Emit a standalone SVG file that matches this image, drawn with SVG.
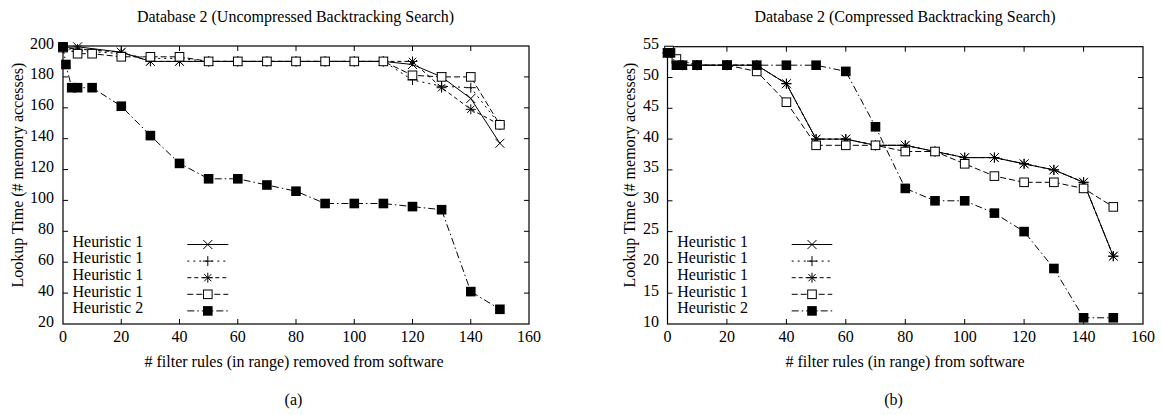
<svg xmlns="http://www.w3.org/2000/svg" width="1162" height="415" viewBox="0 0 1162 415">
<style>
text{font-family:"Liberation Serif","Times New Roman",serif;font-size:16px;fill:#000}
.r{text-anchor:end}
.m{text-anchor:middle}
.frame{fill:none;stroke:#000;stroke-width:1.2}
.tick{fill:none;stroke:#000;stroke-width:1}
.s{fill:none;stroke:#000;stroke-width:1}
.a{stroke-dasharray:none}
.b{stroke-dasharray:2 4}
.c{stroke-dasharray:4 3}
.d{stroke-dasharray:6 3}
.e{stroke-dasharray:7 3 1.5 3}
.mk{fill:none;stroke:#000;stroke-width:1;stroke-dasharray:none}
.px{marker-start:url(#mx);marker-mid:url(#mx);marker-end:url(#mx)}
.pp{marker-start:url(#mp);marker-mid:url(#mp);marker-end:url(#mp)}
.pa{marker-start:url(#ma);marker-mid:url(#ma);marker-end:url(#ma)}
.ps{marker-start:url(#ms);marker-mid:url(#ms);marker-end:url(#ms)}
.pf{marker-start:url(#mf);marker-mid:url(#mf);marker-end:url(#mf)}
.lx{marker-mid:url(#mx)}
.lp{marker-mid:url(#mp)}
.la{marker-mid:url(#ma)}
.ls{marker-mid:url(#ms)}
.lf{marker-mid:url(#mf)}
</style>
<defs>
<marker id="mx" markerUnits="userSpaceOnUse" viewBox="-6 -6 12 12" markerWidth="12" markerHeight="12" refX="0" refY="0" orient="0" overflow="visible"><path class="mk" d="M-4.5,-4.5L4.5,4.5M-4.5,4.5L4.5,-4.5"/></marker>
<marker id="mp" markerUnits="userSpaceOnUse" viewBox="-6 -6 12 12" markerWidth="12" markerHeight="12" refX="0" refY="0" orient="0" overflow="visible"><path class="mk" d="M-5,0H5M0,-5V5"/></marker>
<marker id="ma" markerUnits="userSpaceOnUse" viewBox="-6 -6 12 12" markerWidth="12" markerHeight="12" refX="0" refY="0" orient="0" overflow="visible"><path class="mk" d="M-5,0H5M0,-5V5M-3.6,-3.6L3.6,3.6M-3.6,3.6L3.6,-3.6"/></marker>
<marker id="ms" markerUnits="userSpaceOnUse" viewBox="-6 -6 12 12" markerWidth="12" markerHeight="12" refX="0" refY="0" orient="0" overflow="visible"><rect x="-4.3" y="-4.3" width="8.6" height="8.6" fill="#fff" stroke="#000" stroke-width="1"/></marker>
<marker id="mf" markerUnits="userSpaceOnUse" viewBox="-6 -6 12 12" markerWidth="12" markerHeight="12" refX="0" refY="0" orient="0" overflow="visible"><rect x="-4.8" y="-4.8" width="9.6" height="9.6" fill="#000"/></marker>
</defs>

<g id="plot-a">
<text class="m" x="295.5" y="22">Database 2 (Uncompressed Backtracking Search)</text>
<rect class="frame" x="63" y="46" width="466" height="278"/>
<path class="tick" d="M121.25,324v-5M179.5,324v-5M237.75,324v-5M296,324v-5M354.25,324v-5M412.5,324v-5M470.75,324v-5M121.25,46v5M179.5,46v5M237.75,46v5M296,46v5M354.25,46v5M412.5,46v5M470.75,46v5M63,293.1h5M63,262.2h5M63,231.3h5M63,200.4h5M63,169.6h5M63,138.7h5M63,107.8h5M63,76.9h5M529,293.1h-5M529,262.2h-5M529,231.3h-5M529,200.4h-5M529,169.6h-5M529,138.7h-5M529,107.8h-5M529,76.9h-5"/>
<g id="a-yticks">
<text class="r" x="54" y="326.5">20</text>
<text class="r" x="54" y="295.6">40</text>
<text class="r" x="54" y="264.7">60</text>
<text class="r" x="54" y="233.8">80</text>
<text class="r" x="54" y="202.9">100</text>
<text class="r" x="54" y="172.1">120</text>
<text class="r" x="54" y="141.2">140</text>
<text class="r" x="54" y="110.3">160</text>
<text class="r" x="54" y="79.4">180</text>
<text class="r" x="54" y="48.5">200</text>
</g>
<g id="a-xticks">
<text class="m" x="63" y="342">0</text>
<text class="m" x="121.25" y="342">20</text>
<text class="m" x="179.5" y="342">40</text>
<text class="m" x="237.75" y="342">60</text>
<text class="m" x="296" y="342">80</text>
<text class="m" x="354.25" y="342">100</text>
<text class="m" x="412.5" y="342">120</text>
<text class="m" x="470.75" y="342">140</text>
<text class="m" x="529" y="342">160</text>
</g>
<text class="m" transform="translate(23,175) rotate(-90)">Lookup Time (# memory accesses)</text>
<text class="m" x="294" y="366.5"># filter rules (in range) removed from software</text>
<text class="m" x="293.5" y="405">(a)</text>
<g id="a-series">
<polyline class="s a px" points="63,47.6 77.6,46.8 121.3,52.2 150.4,61.4 179.5,61.4 208.6,61.4 237.8,61.4 266.9,61.4 296,61.4 325.1,61.4 354.3,61.4 383.4,61.4 412.5,64.5 441.6,76.9 470.8,98.5 499.9,143.3"/>
<polyline class="s b pp" points="63,47.6 77.6,50.6 121.3,53.7 150.4,58.4 179.5,58.4 208.6,61.4 237.8,61.4 266.9,61.4 296,61.4 325.1,61.4 354.3,61.4 383.4,61.4 412.5,80 441.6,86.2 470.8,87.7 499.9,124.8"/>
<polyline class="s c pa" points="63,47.6 77.6,49.1 121.3,52.2 150.4,61.4 179.5,61.4 208.6,61.4 237.8,61.4 266.9,61.4 296,61.4 325.1,61.4 354.3,61.4 383.4,61.4 412.5,61.4 441.6,87.7 470.8,109.3 499.9,124.8"/>
<polyline class="s d ps" points="63,47.6 77.6,53.7 92.1,53.7 121.3,56.8 150.4,56.8 179.5,56.8 208.6,61.4 237.8,61.4 266.9,61.4 296,61.4 325.1,61.4 354.3,61.4 383.4,61.4 412.5,75.3 441.6,76.9 470.8,76.9 499.9,124.8"/>
<polyline class="s e pf" points="63,46.8 65.9,64.5 71.7,87.7 77.6,87.7 92.1,87.7 121.3,106.2 150.4,135.6 179.5,163.4 208.6,178.8 237.8,178.8 266.9,185 296,191.2 325.1,203.5 354.3,203.5 383.4,203.5 412.5,206.6 441.6,209.7 470.8,291.6 499.9,309.3"/>
</g>
<g id="a-legend">
<text x="72.5" y="246.7">Heuristic 1</text>
<text x="72.5" y="263.3">Heuristic 1</text>
<text x="72.5" y="279.9">Heuristic 1</text>
<text x="72.5" y="296.5">Heuristic 1</text>
<text x="72.5" y="313.1">Heuristic 2</text>
<polyline class="s a lx" points="187.3,244.5 207.8,244.5 228.3,244.5"/>
<polyline class="s b lp" points="187.3,261.1 207.8,261.1 228.3,261.1"/>
<polyline class="s c la" points="187.3,277.7 207.8,277.7 228.3,277.7"/>
<polyline class="s d ls" points="187.3,294.3 207.8,294.3 228.3,294.3"/>
<polyline class="s e lf" points="187.3,310.9 207.8,310.9 228.3,310.9"/>
</g>
</g>

<g id="plot-b">
<text class="m" x="905" y="22">Database 2 (Compressed Backtracking Search)</text>
<rect class="frame" x="667.5" y="46.7" width="475.5" height="277.3"/>
<path class="tick" d="M726.9,324v-5M786.4,324v-5M845.8,324v-5M905.3,324v-5M964.7,324v-5M1024.1,324v-5M1083.6,324v-5M726.9,46.7v5M786.4,46.7v5M845.8,46.7v5M905.3,46.7v5M964.7,46.7v5M1024.1,46.7v5M1083.6,46.7v5M667.5,293.2h5M667.5,262.4h5M667.5,231.6h5M667.5,200.8h5M667.5,169.9h5M667.5,139.1h5M667.5,108.3h5M667.5,77.5h5M1143,293.2h-5M1143,262.4h-5M1143,231.6h-5M1143,200.8h-5M1143,169.9h-5M1143,139.1h-5M1143,108.3h-5M1143,77.5h-5"/>
<g id="b-yticks">
<text class="r" x="659" y="326.5">10</text>
<text class="r" x="659" y="295.7">15</text>
<text class="r" x="659" y="264.9">20</text>
<text class="r" x="659" y="234.1">25</text>
<text class="r" x="659" y="203.3">30</text>
<text class="r" x="659" y="172.4">35</text>
<text class="r" x="659" y="141.6">40</text>
<text class="r" x="659" y="110.8">45</text>
<text class="r" x="659" y="80">50</text>
<text class="r" x="659" y="49.2">55</text>
</g>
<g id="b-xticks">
<text class="m" x="667.5" y="342">0</text>
<text class="m" x="726.9" y="342">20</text>
<text class="m" x="786.4" y="342">40</text>
<text class="m" x="845.8" y="342">60</text>
<text class="m" x="905.3" y="342">80</text>
<text class="m" x="964.7" y="342">100</text>
<text class="m" x="1024.1" y="342">120</text>
<text class="m" x="1083.6" y="342">140</text>
<text class="m" x="1143" y="342">160</text>
</g>
<text class="m" transform="translate(635,175) rotate(-90)">Lookup Time (# memory accesses)</text>
<text class="m" x="905" y="366.5"># filter rules (in range) from software</text>
<text class="m" x="893.5" y="405">(b)</text>
<g id="b-series">
<polyline class="s a px" points="667.5,52.9 682.4,65.2 697.2,65.2 727,65.2 756.7,65.2 786.4,83.7 816.1,139.1 845.8,139.1 875.5,145.3 905.3,145.3 935,151.5 964.7,157.6 994.4,157.6 1024.1,163.8 1053.9,169.9 1083.6,182.3 1113.3,256.2"/>
<polyline class="s b pp" points="667.5,52.9 682.4,65.2 697.2,65.2 727,65.2 756.7,65.2 786.4,83.7 816.1,139.1 845.8,139.1 875.5,145.3 905.3,145.3 935,151.5 964.7,157.6 994.4,157.6 1024.1,163.8 1053.9,169.9 1083.6,182.3 1113.3,256.2"/>
<polyline class="s c pa" points="667.5,52.9 682.4,65.2 697.2,65.2 727,65.2 756.7,65.2 786.4,83.7 816.1,139.1 845.8,139.1 875.5,145.3 905.3,145.3 935,151.5 964.7,157.6 994.4,157.6 1024.1,163.8 1053.9,169.9 1083.6,182.3 1113.3,256.2"/>
<polyline class="s d ps" points="669,50.5 676.4,59 697.2,65.2 727,65.2 756.7,71.4 786.4,102.2 816.1,145.3 845.8,145.3 875.5,145.3 905.3,151.5 935,151.5 964.7,163.8 994.4,176.1 1024.1,182.3 1053.9,182.3 1083.6,188.4 1113.3,206.9"/>
<polyline class="s e pf" points="667.5,52.9 670.5,52.9 676.4,65.2 682.4,65.2 697.2,65.2 727,65.2 756.7,65.2 786.4,65.2 816.1,65.2 845.8,71.4 875.5,126.8 905.3,188.4 935,200.8 964.7,200.8 994.4,213.1 1024.1,231.6 1053.9,268.5 1083.6,317.8 1113.3,317.8"/>
</g>
<g id="b-legend">
<text x="677.3" y="246.7">Heuristic 1</text>
<text x="677.3" y="263.3">Heuristic 1</text>
<text x="677.3" y="279.9">Heuristic 1</text>
<text x="677.3" y="296.5">Heuristic 1</text>
<text x="677.3" y="313.1">Heuristic 2</text>
<polyline class="s a lx" points="791.7,244.5 812,244.5 832.3,244.5"/>
<polyline class="s b lp" points="791.7,261.1 812,261.1 832.3,261.1"/>
<polyline class="s c la" points="791.7,277.7 812,277.7 832.3,277.7"/>
<polyline class="s d ls" points="791.7,294.3 812,294.3 832.3,294.3"/>
<polyline class="s e lf" points="791.7,310.9 812,310.9 832.3,310.9"/>
</g>
</g>
</svg>
